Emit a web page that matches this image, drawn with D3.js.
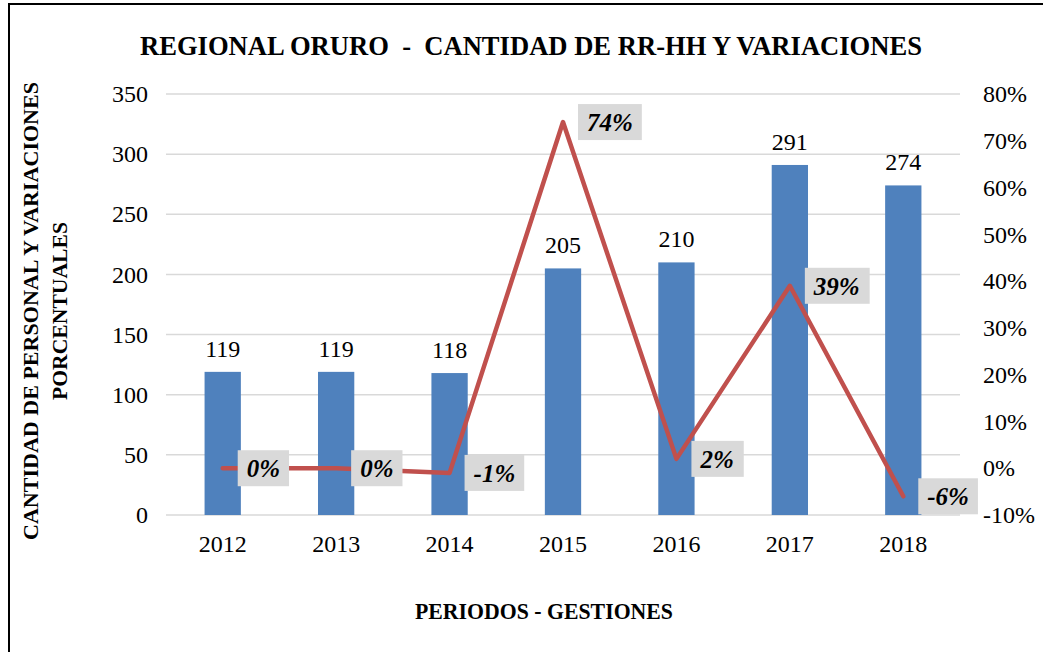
<!DOCTYPE html>
<html>
<head>
<meta charset="utf-8">
<script src="https://cdn.jsdelivr.net/npm/d3@7"></script>
<style>
  body { margin: 0; background: #fff; }
  svg { display: block; font-family: "Liberation Serif", "DejaVu Serif", serif; }
</style>
</head>
<body>
<div id="container"></div>
<script>
const years = ["2012", "2013", "2014", "2015", "2016", "2017", "2018"];
const personal = [119, 119, 118, 205, 210, 291, 274];
const variacion = [0, 0, -1, 74, 2, 39, -6];
const leftTicks = [0, 50, 100, 150, 200, 250, 300, 350];
const rightTicks = [-10, 0, 10, 20, 30, 40, 50, 60, 70, 80];

const w = 1043, h = 652;
const plotL = 166, plotR = 960, plotT = 94, plotB = 515;

const svg = d3.select("#container").append("svg")
  .attr("width", w).attr("height", h);

svg.append("rect")
   .attr("x", 9).attr("y", 4)
   .attr("width", 1200).attr("height", 1000)
   .attr("fill", "none").attr("stroke", "#000").attr("stroke-width", 2);

const x = d3.scaleBand().domain(years).range([plotL, plotR]).paddingInner(0.68).paddingOuter(0.34);
const yL = d3.scaleLinear().domain([0, 350]).range([plotB, plotT]);
const yR = d3.scaleLinear().domain([-10, 80]).range([plotB, plotT]);

// grid
svg.append("g").selectAll("line")
   .data(leftTicks).enter().append("line")
   .attr("x1", plotL).attr("x2", plotR)
   .attr("y1", d => yL(d)).attr("y2", d => yL(d))
   .attr("stroke", "#d9d9d9").attr("stroke-width", 1.5);

// axes
const yAxisL = d3.axisLeft(yL).tickValues(leftTicks).tickSize(0).tickPadding(18);
svg.append("g").attr("transform", "translate(" + plotL + ",0)").call(yAxisL)
   .call(g => g.select(".domain").remove())
   .selectAll("text").attr("font-size", 24).attr("font-family", "Liberation Serif").attr("fill", "#000");

const yAxisR = d3.axisRight(yR).tickValues(rightTicks).tickSize(0).tickPadding(23)
   .tickFormat(d => d + "%");
svg.append("g").attr("transform", "translate(" + plotR + ",0)").call(yAxisR)
   .call(g => g.select(".domain").remove())
   .selectAll("text").attr("font-size", 24).attr("font-family", "Liberation Serif").attr("fill", "#000");

const xAxis = d3.axisBottom(x).tickSize(0).tickPadding(20);
svg.append("g").attr("transform", "translate(0," + plotB + ")").call(xAxis)
   .call(g => g.select(".domain").remove())
   .selectAll("text").attr("font-size", 24).attr("font-family", "Liberation Serif").attr("fill", "#000");

// bars
svg.selectAll("rect.bar")
   .data(personal).enter().append("rect")
   .attr("class", "bar")
   .attr("x", (d, i) => x(years[i]))
   .attr("width", x.bandwidth())
   .attr("y", d => yL(d))
   .attr("height", d => plotB - yL(d))
   .attr("fill", "#4f81bd");

svg.selectAll("text.val")
   .data(personal).enter().append("text")
   .attr("class", "val")
   .attr("x", (d, i) => x(years[i]) + x.bandwidth() / 2)
   .attr("y", d => yL(d) - 15)
   .attr("text-anchor", "middle")
   .attr("font-size", 24)
   .text(d => d);

// line
const cx = i => x(years[i]) + x.bandwidth() / 2;
const line = d3.line().x((d, i) => cx(i)).y(d => yR(d));
svg.append("path")
   .datum(variacion)
   .attr("d", line)
   .attr("fill", "none")
   .attr("stroke", "#c0504d")
   .attr("stroke-width", 4.5)
   .attr("stroke-linejoin", "round")
   .attr("stroke-linecap", "round");

// line labels
const lab = svg.append("g").selectAll("g")
   .data(variacion).enter().append("g")
   .attr("transform", (d, i) => "translate(" + (cx(i) + 15) + "," + yR(d) + ")");
lab.append("text")
   .attr("x", 9).attr("y", 9)
   .attr("font-size", 25).attr("font-weight", "bold").attr("font-style", "italic")
   .text(d => d + "%");
lab.each(function() {
  const g = d3.select(this);
  const bb = g.select("text").node().getBBox();
  g.insert("rect", "text")
   .attr("x", 0).attr("y", -18)
   .attr("width", bb.width + 18).attr("height", 36)
   .attr("fill", "#d9d9d9");
});

// titles
svg.append("text")
   .attr("x", 531).attr("y", 55)
   .attr("text-anchor", "middle")
   .style("white-space", "pre")
   .attr("font-size", 27).attr("font-weight", "bold")
   .attr("textLength", 782).attr("lengthAdjust", "spacingAndGlyphs")
   .text("REGIONAL ORURO  -  CANTIDAD DE RR-HH Y VARIACIONES");

svg.append("text")
   .attr("x", 544).attr("y", 619)
   .attr("text-anchor", "middle")
   .attr("font-size", 23).attr("font-weight", "bold")
   .attr("textLength", 258).attr("lengthAdjust", "spacingAndGlyphs")
   .text("PERIODOS - GESTIONES");

svg.append("text")
   .attr("transform", "translate(38,311) rotate(-90)")
   .attr("text-anchor", "middle")
   .attr("font-size", 21).attr("font-weight", "bold")
   .attr("textLength", 458).attr("lengthAdjust", "spacingAndGlyphs")
   .text("CANTIDAD DE PERSONAL Y VARIACIONES");
svg.append("text")
   .attr("transform", "translate(67,311) rotate(-90)")
   .attr("text-anchor", "middle")
   .attr("font-size", 21).attr("font-weight", "bold")
   .attr("textLength", 178).attr("lengthAdjust", "spacingAndGlyphs")
   .text("PORCENTUALES");
</script>
</body>
</html>
